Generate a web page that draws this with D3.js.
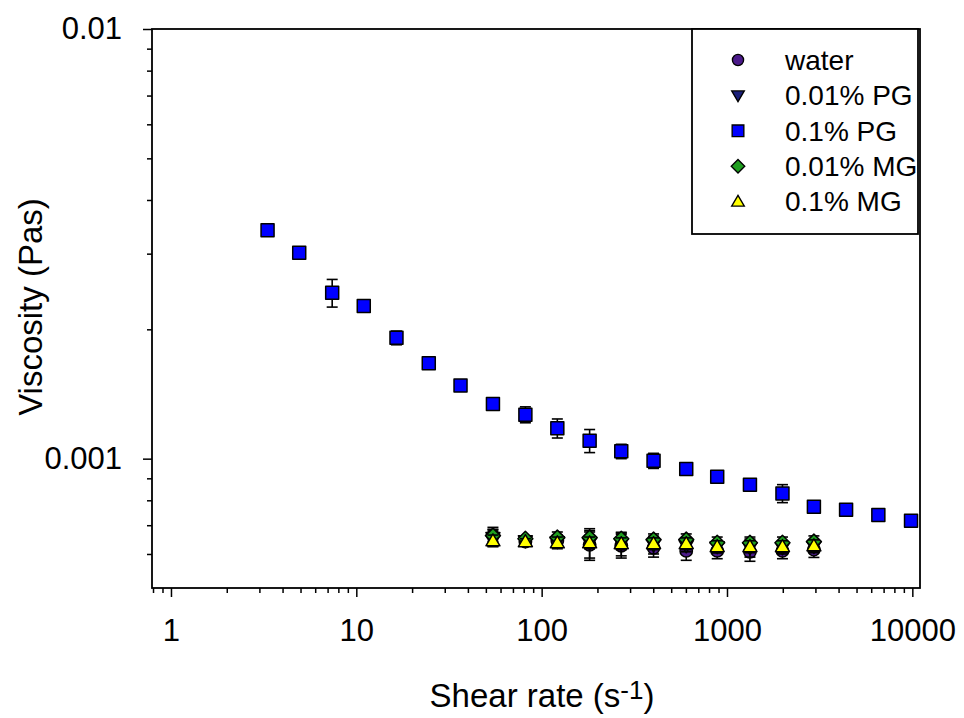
<!DOCTYPE html>
<html>
<head>
<meta charset="utf-8">
<script src="https://cdn.jsdelivr.net/npm/d3@7"></script>
<style>
  body { margin: 0; background: #fff; }
  text { font-family: "Liberation Sans", Arial, sans-serif; fill: #000; }
</style>
</head>
<body>
<div id="chart-area"></div>
<script>
// values
const shearPG = [3.32, 4.92, 7.41, 10.97, 16.47, 24.6, 36.5, 54.6, 81.7, 121.5, 181.5, 268.9, 401.6, 602.7, 885.6, 1330, 1992, 2944, 4391, 6556, 9840]
const viscPG01 = [0.00340, 0.003016, 0.002433, 0.002265, 0.001911, 0.001668, 0.001480, 0.001341, 0.001266, 0.001177, 0.001101, 0.001040, 0.000989, 0.000946, 0.000908, 0.000870, 0.000830, 0.000773, 0.000760, 0.000739, 0.000717]
const errPG01 = [0.00002, 0.00002, 0.00018, 0.00002, 0.00007, 0.00002, 0.00002, 0.00002, 0.000054, 0.00006, 0.000068, 0.00004, 0.00004, 0.00002, 0.00001, 0.00001, 0.00004, 0.00001, 0.00001, 0.00001, 0.00001]

const shearLow = [54.6, 81.7, 121.5, 181.5, 268.9, 401.6, 602.7, 885.6, 1330, 1992, 2944]
const viscWater = [0.000662, 0.000641, 0.000644, 0.000630, 0.000627, 0.000620, 0.000610, 0.000610, 0.000607, 0.000610, 0.000614]
const errWater = [0.00003, 0.00001, 0.00002, 0.00005, 0.00004, 0.00003, 0.00003, 0.000025, 0.00003, 0.000025, 0.000025]
const viscPG001 = [0.000655, 0.000644, 0.000641, 0.000637, 0.000634, 0.000630, 0.000627, 0.000624, 0.000620, 0.000620, 0.000624]
const errPG001 = [0.00003, 0.00001, 0.00002, 0.00005, 0.00004, 0.00003, 0.00002, 0.00002, 0.00003, 0.00002, 0.00002]
const viscMG001 = [0.000662, 0.000651, 0.000655, 0.000655, 0.000651, 0.000648, 0.000648, 0.000637, 0.000637, 0.000637, 0.000641]
const errMG001 = [0.00002, 0.00001, 0.00002, 0.00002, 0.00002, 0.00002, 0.00002, 0.00002, 0.00002, 0.00002, 0.00002]
const viscMG01 = [0.000644, 0.000641, 0.000637, 0.000637, 0.000634, 0.000634, 0.000634, 0.000624, 0.000624, 0.000624, 0.000627]
const errMG01 = [0.00002, 0.00001, 0.00002, 0.00002, 0.00002, 0.00002, 0.00002, 0.00002, 0.00002, 0.00002, 0.00002]

const legendNames = ["water", "0.01% PG", "0.1% PG", "0.01% MG", "0.1% MG"]
const xMajor = [1, 10, 100, 1000, 10000]
const yMajor = [0.001, 0.01]

const W = 964, H = 718
const PLOT = { LEFT: 152, RIGHT: 920, TOP: 29, BOTTOM: 588 }

const svg = d3.select("#chart-area").append("svg")
  .attr("width", W)
  .attr("height", H)

const xScale = d3.scaleLog().domain([0.79, 11000]).range([PLOT.LEFT, PLOT.RIGHT])
const yScale = d3.scaleLog().domain([0.0005, 0.01]).range([PLOT.BOTTOM, PLOT.TOP])

// minor ticks between decades
const xMinor = []
for (let d = 0.1; d <= 1000; d *= 10)
  for (let k = 2; k <= 9; k++) {
    const v = +(k * d).toPrecision(3)
    if (v >= 0.79 && v <= 11000) xMinor.push(v)
  }
const yMinor = []
for (let d = 0.0001; d <= 0.001; d *= 10)
  for (let k = 2; k <= 9; k++) {
    const v = +(k * d).toPrecision(3)
    if (v > 0.0005 && v < 0.01) yMinor.push(v)
  }

// frame
svg.append("rect")
  .attr("x", PLOT.LEFT).attr("y", PLOT.TOP)
  .attr("width", PLOT.RIGHT - PLOT.LEFT)
  .attr("height", PLOT.BOTTOM - PLOT.TOP)
  .attr("fill", "none").attr("stroke", "#000").attr("stroke-width", 1.8)

// x axis
svg.append("g")
  .attr("transform", `translate(0, ${PLOT.BOTTOM})`)
  .call(d3.axisBottom(xScale).tickValues(xMinor).tickSize(5).tickFormat(""))
  .call(g => g.select(".domain").remove())
svg.append("g")
  .attr("class", "x axis")
  .attr("transform", `translate(0, ${PLOT.BOTTOM})`)
  .call(d3.axisBottom(xScale).tickValues(xMajor).tickSize(9).tickPadding(22).tickFormat(d3.format("d")))
  .call(g => g.select(".domain").remove())
  .call(g => g.selectAll("text").attr("font-size", "31px").attr("font-family", "Liberation Sans, Arial, sans-serif"))

// y axis
svg.append("g")
  .attr("transform", `translate(${PLOT.LEFT}, 0)`)
  .call(d3.axisLeft(yScale).tickValues(yMinor).tickSize(5).tickFormat(""))
  .call(g => g.select(".domain").remove())
svg.append("g")
  .attr("class", "y axis")
  .attr("transform", `translate(${PLOT.LEFT}, 0)`)
  .call(d3.axisLeft(yScale).tickValues(yMajor).tickSize(9).tickPadding(21).tickFormat(d => d === 0.01 ? "0.01" : "0.001"))
  .call(g => g.select(".domain").remove())
  .call(g => g.selectAll("text").attr("font-size", "31px").attr("font-family", "Liberation Sans, Arial, sans-serif"))
svg.selectAll(".tick line").attr("stroke", "#000").attr("stroke-width", 1.5)

// axis titles
const xLabel = svg.append("text")
  .attr("x", 542).attr("y", 707)
  .attr("font-size", "33px")
  .attr("text-anchor", "middle")
xLabel.append("tspan").text("Shear rate (s")
xLabel.append("tspan").attr("font-size", "26px").attr("dy", -8).text("-1")
xLabel.append("tspan").attr("dy", 8).text(")")

svg.append("text")
  .attr("transform", "translate(42, 307) rotate(-90)")
  .attr("font-size", "33px")
  .attr("text-anchor", "middle")
  .text("Viscosity (Pas)")

// marker shapes
const shapes = {
  circle: d3.symbol(d3.symbolCircle, Math.PI * 6.2 * 6.2)(),
  triDown: "M0,7L7,-5L-7,-5Z",
  square: "M-6.5,-6.5H6.5V6.5H-6.5Z",
  diamond: "M0,-7.5L7.5,0L0,7.5L-7.5,0Z",
  triUp: "M0,-7L7,5L-7,5Z"
}

const series = [
  { name: legendNames[0], x: shearLow, y: viscWater, err: errWater, shape: "circle", color: "#4b1a8a" },
  { name: legendNames[1], x: shearLow, y: viscPG001, err: errPG001, shape: "triDown", color: "#1b1f7a" },
  { name: legendNames[2], x: shearPG, y: viscPG01, err: errPG01, shape: "square", color: "#0000ff" },
  { name: legendNames[3], x: shearLow, y: viscMG001, err: errMG001, shape: "diamond", color: "#1f9e1f" },
  { name: legendNames[4], x: shearLow, y: viscMG01, err: errMG01, shape: "triUp", color: "#ffff00" }
]

series.forEach(s => {
  const pts = s.x.map((x, i) => ({ x: x, y: s.y[i], e: s.err[i] }))
  const g = svg.append("g")
  const eb = g.selectAll(".err").data(pts).enter().append("g")
    .attr("stroke", "#000").attr("stroke-width", 1.6)
  eb.append("line")
    .attr("x1", d => xScale(d.x)).attr("x2", d => xScale(d.x))
    .attr("y1", d => yScale(d.y + d.e)).attr("y2", d => yScale(d.y - d.e))
  eb.append("line")
    .attr("x1", d => xScale(d.x) - 5.5).attr("x2", d => xScale(d.x) + 5.5)
    .attr("y1", d => yScale(d.y + d.e)).attr("y2", d => yScale(d.y + d.e))
  eb.append("line")
    .attr("x1", d => xScale(d.x) - 5.5).attr("x2", d => xScale(d.x) + 5.5)
    .attr("y1", d => yScale(d.y - d.e)).attr("y2", d => yScale(d.y - d.e))
  g.selectAll(".pt").data(pts).enter().append("path")
    .attr("d", shapes[s.shape])
    .attr("transform", d => `translate(${xScale(d.x)}, ${yScale(d.y)})`)
    .attr("fill", s.color)
    .attr("stroke", "#000").attr("stroke-width", 1.5)
    .attr("stroke-linejoin", "round")
})

// legend
const legend = svg.append("g")
legend.append("rect")
  .attr("x", 692).attr("y", 29).attr("width", 226).attr("height", 205)
  .attr("fill", "#fff").attr("stroke", "#000").attr("stroke-width", 1.8)
series.forEach((s, i) => {
  const y = 60 + i * 35.4
  legend.append("path")
    .attr("d", shapes[s.shape])
    .attr("transform", `translate(738, ${y}) scale(0.9)`)
    .attr("fill", s.color).attr("stroke", "#000").attr("stroke-width", 1.5)
  legend.append("text")
    .attr("x", 785).attr("y", y).attr("dy", "0.35em")
    .attr("font-size", "28px")
    .text(s.name)
})
</script>
</body>
</html>
